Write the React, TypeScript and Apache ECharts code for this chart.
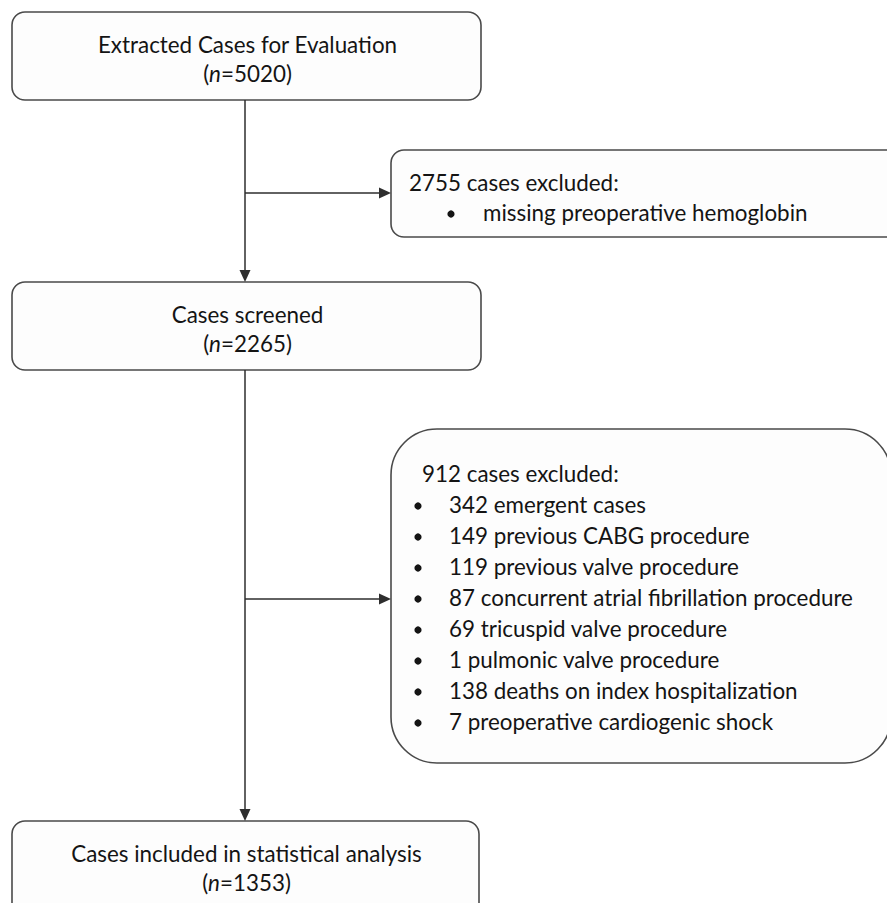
import React, { useEffect, useRef } from "react";
import * as echarts from "echarts";

// ---- data ----
const mainSteps = [
  "Extracted Cases for Evaluation",
  "Cases screened",
  "Cases included in statistical analysis",
];
const mainCounts = [5020, 2265, 1353];
const exclusionTotals = [2755, 912];
const exclusion1Reasons = ["missing preoperative hemoglobin"];
const exclusion2Counts = [342, 149, 119, 87, 69, 1, 138, 7];
const exclusion2Reasons = [
  "emergent cases",
  "previous CABG procedure",
  "previous valve procedure",
  "concurrent atrial fibrillation procedure",
  "tricuspid valve procedure",
  "pulmonic valve procedure",
  "deaths on index hospitalization",
  "preoperative cardiogenic shock",
];

const FONT = "Lato";
const FS = 22.4;
const TXT = "#141414";
const LINE = "#2e2e2e";
const BORDER = "#4a4a4a";

export default function App() {
  const ref = useRef<HTMLDivElement>(null);
  useEffect(() => {
    if (!ref.current) return;
    const chart = echarts.init(ref.current, undefined, { renderer: "svg" });
    const cx = 245;
    const mainBoxes = [
      { x: 12, y: 12, w: 469, h: 88 },
      { x: 12, y: 282, w: 469, h: 88 },
      { x: 12, y: 821, w: 467, h: 100 },
    ];
    const els: any[] = [];
    // main boxes
    mainBoxes.forEach((b, i) => {
      els.push({
        type: "rect",
        shape: { x: b.x, y: b.y, width: b.w, height: b.h, r: 13 },
        style: { fill: "#fdfdfd", stroke: BORDER, lineWidth: 1.6 },
      });
      els.push({
        type: "text",
        x: b.x + b.w / 2 + 1,
        y: b.y + 32,
        style: {
          text: mainSteps[i],
          font: `${FS}px ${FONT}`,
          fill: TXT,
          align: "center",
          verticalAlign: "middle",
        },
      });
      els.push({
        type: "text",
        x: b.x + b.w / 2 + 1,
        y: b.y + 61,
        style: {
          text: `({i|n}=${mainCounts[i]})`,
          font: `${FS}px ${FONT}`,
          fill: TXT,
          align: "center",
          verticalAlign: "middle",
          rich: { i: { fontStyle: "italic", fontSize: FS, fontFamily: FONT, fill: TXT } },
        },
      });
    });
    // exclusion box 1
    els.push({
      type: "rect",
      shape: { x: 391, y: 150, width: 520, height: 87, r: 13 },
      style: { fill: "#fdfdfd", stroke: BORDER, lineWidth: 1.6 },
    });
    els.push({
      type: "text",
      x: 409,
      y: 182,
      style: { text: `${exclusionTotals[0]} cases excluded:`, font: `${FS}px ${FONT}`, fill: TXT, align: "left", verticalAlign: "middle" },
    });
    exclusion1Reasons.forEach((r, k) => {
      els.push({ type: "circle", shape: { cx: 451, cy: 214 + k * 31, r: 3.6 }, style: { fill: TXT } });
      els.push({
        type: "text",
        x: 483,
        y: 212 + k * 31,
        style: { text: r, font: `${FS}px ${FONT}`, fill: TXT, align: "left", verticalAlign: "middle" },
      });
    });
    // exclusion box 2
    els.push({
      type: "rect",
      shape: { x: 391, y: 429, width: 500, height: 334, r: 46 },
      style: { fill: "#fdfdfd", stroke: BORDER, lineWidth: 1.6 },
    });
    els.push({
      type: "text",
      x: 422,
      y: 473,
      style: { text: `${exclusionTotals[1]} cases excluded:`, font: `${FS}px ${FONT}`, fill: TXT, align: "left", verticalAlign: "middle" },
    });
    exclusion2Reasons.forEach((r, k) => {
      const y = 504 + k * 31;
      els.push({ type: "circle", shape: { cx: 418, cy: y + 2, r: 3.6 }, style: { fill: TXT } });
      els.push({
        type: "text",
        x: 449,
        y,
        style: { text: `${exclusion2Counts[k]} ${r}`, font: `${FS}px ${FONT}`, fill: TXT, align: "left", verticalAlign: "middle" },
      });
    });
    // connectors
    const vline = (y1: number, y2: number) => {
      els.push({ type: "line", shape: { x1: cx, y1, x2: cx, y2: y2 - 11 }, style: { stroke: LINE, lineWidth: 1.5 } });
      els.push({ type: "polygon", shape: { points: [[cx - 5.5, y2 - 12], [cx + 5.5, y2 - 12], [cx, y2]] }, style: { fill: LINE } });
    };
    const hline = (y: number, x2: number) => {
      els.push({ type: "line", shape: { x1: cx, y1: y, x2: x2 - 11, y2: y }, style: { stroke: LINE, lineWidth: 1.5 } });
      els.push({ type: "polygon", shape: { points: [[x2 - 12, y - 5.5], [x2 - 12, y + 5.5], [x2, y]] }, style: { fill: LINE } });
    };
    vline(100, 282);
    vline(370, 821);
    hline(193, 391);
    hline(599, 391);

    chart.setOption({
      animation: false,
      backgroundColor: "#ffffff",
      graphic: { elements: els },
    });
    return () => chart.dispose();
  }, []);
  return (
    <div
      ref={ref}
      style={{ position: "fixed", left: 0, top: 0, width: 887, height: 903 }}
    />
  );
}
